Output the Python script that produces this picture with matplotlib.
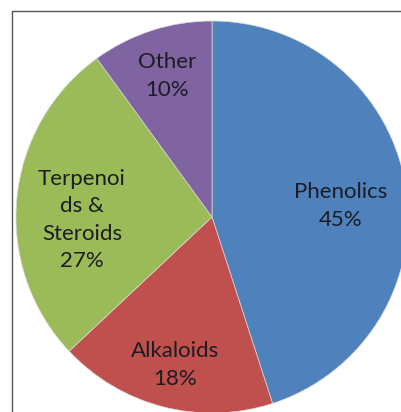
import matplotlib
matplotlib.use("Agg")
import matplotlib.pyplot as plt
from matplotlib.patches import Rectangle

categories = ["Phenolics", "Alkaloids", "Terpenoi\nds &\nSteroids", "Other"]
values = [45, 18, 27, 10]
colors = ["#4F81BD", "#C0504D", "#9BBB59", "#8064A2"]
label_pos = [(341, 206), (175, 365), (82, 220), (167, 76)]  # pixel positions (from top)

W, H = 401, 412
fig = plt.figure(figsize=(W / 100, H / 100), dpi=100)
ax = fig.add_axes([0, 0, 1, 1])

ax.add_patch(Rectangle((12, -20), 420, H - 11 + 20, fill=False, edgecolor="#555555", lw=1.0))

ax.pie(values, colors=colors, startangle=90, counterclock=False,
       center=(212, H - 217), radius=196, frame=True,
       wedgeprops=dict(edgecolor="#d8d8d8", linewidth=0.5))
ax.set_xlim(0, W)
ax.set_ylim(0, H)
ax.set_aspect("equal")
ax.axis("off")

for cat, v, (x, y) in zip(categories, values, label_pos):
    ax.text(x, H - y, f"{cat}\n{v}%", ha="center", va="center",
            fontsize=16, family="Lato", color="#1c1c24", linespacing=1.45)

fig.savefig("out.png", dpi=100)
